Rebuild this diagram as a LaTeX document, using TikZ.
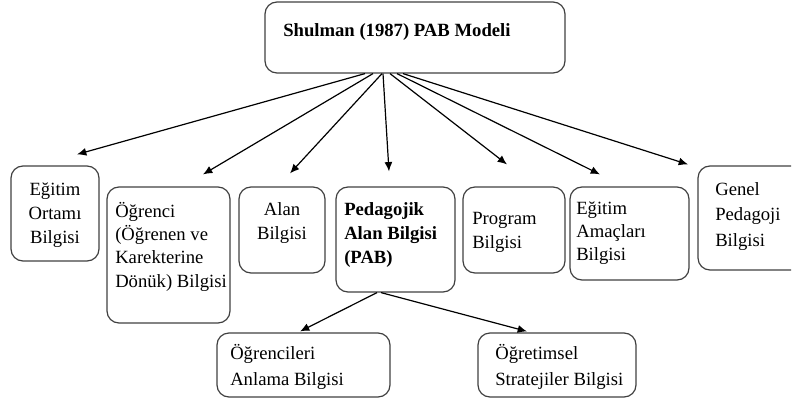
\documentclass[tikz,border=0pt]{standalone}
\usepackage{fontspec}
\setmainfont{Liberation Serif}
\usetikzlibrary{arrows.meta,fit}
\tikzset{
  kutu/.style={draw=black!75, line width=0.9pt, rounded corners=9pt, inner sep=0pt},
  yazi/.style={font=\fontsize{14}{18}\selectfont, inner sep=0pt, align=left},
  ok/.style={-{Latex[length=7pt,width=6pt]}, line width=0.9pt},
}
\begin{document}
\begin{tikzpicture}[x=0.75pt,y=-0.75pt]
\useasboundingbox (0,0) rectangle (799,410);
\clip (0,0) rectangle (791,410);

% kutular
\node[kutu, fit={(265,2) (565,73)}] (model) {};
\node[kutu, fit={(11,166) (99,261)}] (ortam) {};
\node[kutu, fit={(107,187) (230,323)}] (ogrenci) {};
\node[kutu, fit={(239,187) (325,273)}] (alan) {};
\node[kutu, fit={(336,187) (455,292)}] (pab) {};
\node[kutu, fit={(463,187) (565,273)}] (program) {};
\node[kutu, fit={(570,187) (689,280)}] (amac) {};
\node[kutu, fit={(698,166) (810,270)}] (genel) {};
\node[kutu, fit={(217,333) (390,397)}] (anlama) {};
\node[kutu, fit={(478,333) (636,397)}] (strateji) {};

% yazilar (base = son satir)
\node[yazi, anchor=base west, font=\fontsize{14}{18}\selectfont\bfseries] (model-t) at (283,37) {Shulman (1987) PAB Modeli};
\node[yazi, anchor=base, align=center] (ortam-t) at (55,243) {Eğitim\\Ortamı\\Bilgisi};
\node[yazi, anchor=base west, font=\fontsize{14}{17.3}\selectfont] (ogrenci-t) at (115,287) {Öğrenci\\(Öğrenen ve\\Karekterine\\Dönük) Bilgisi};
\node[yazi, anchor=base, align=center] (alan-t) at (282,239) {Alan\\Bilgisi};
\node[yazi, anchor=base west, font=\fontsize{14}{18}\selectfont\bfseries] (pab-t) at (344,263) {Pedagojik\\Alan Bilgisi\\(PAB)};
\node[yazi, anchor=base west] (program-t) at (472,248) {Program\\Bilgisi};
\node[yazi, anchor=base west, font=\fontsize{14}{17}\selectfont] (amac-t) at (576,260) {Eğitim\\Amaçları\\Bilgisi};
\node[yazi, anchor=base west, font=\fontsize{14}{19}\selectfont] (genel-t) at (715,246) {Genel\\Pedagoji\\Bilgisi};
\node[yazi, anchor=base west, font=\fontsize{14}{19}\selectfont] (anlama-t) at (230,385) {Öğrencileri\\Anlama Bilgisi};
\node[yazi, anchor=base west, font=\fontsize{14}{19}\selectfont] (strateji-t) at (495,385) {Öğretimsel\\Stratejiler Bilgisi};

% oklar
\draw[ok] ([shift={(-50,0)}]model.south) -- ([shift={(22,-11)}]ortam.north);
\draw[ok] ([shift={(-42,0)}]model.south) -- ([shift={(34.5,-12)}]ogrenci.north);
\draw[ok] ([shift={(-33,0)}]model.south) -- ([shift={(8,-13)}]alan.north);
\draw[ok] ([shift={(-32,0)}]model.south) -- ([shift={(-6.5,-15)}]pab.north);
\draw[ok] ([shift={(-25,0)}]model.south) -- ([shift={(-7,-22)}]program.north);
\draw[ok] ([shift={(-18,0)}]model.south) -- ([shift={(-29.5,-12)}]amac.north);
\draw[ok] ([shift={(-12,0)}]model.south) -- ([shift={(-66,-1)}]genel.north);
\draw[ok] ([shift={(-18.5,0)}]pab.south) -- ([shift={(-3.5,-1)}]anlama.north);
\draw[ok] ([shift={(-14.5,0)}]pab.south) -- ([shift={(-30,-1)}]strateji.north);
\end{tikzpicture}
\end{document}
